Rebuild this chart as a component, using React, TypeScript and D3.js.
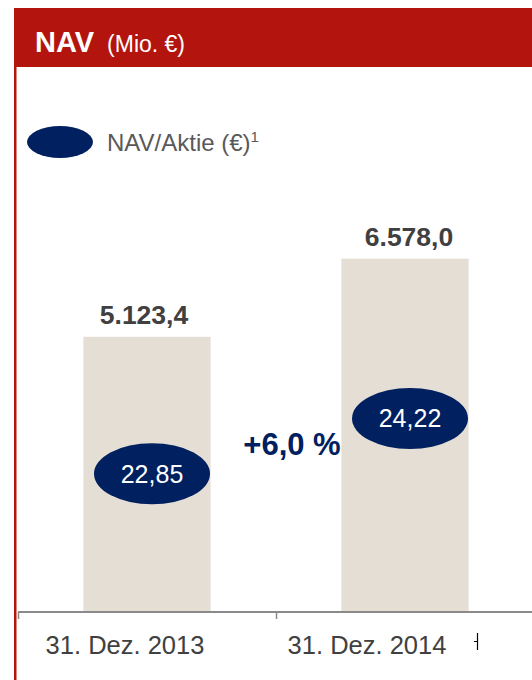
import React from "react";
import * as d3 from "d3";

const categories = ["31. Dez. 2013", "31. Dez. 2014"];
const navValues = [5123.4, 6578.0];
const navLabels = ["5.123,4", "6.578,0"];
const perShareValues = [22.85, 24.22];
const perShareLabels = ["22,85", "24,22"];
const growthLabel = "+6,0 %";

const W = 532;
const H = 680;
const RED = "#B4140E";
const NAVY = "#002060";
const BAR = "#E4DED5";
const DARK = "#404040";
const FONT = "Liberation Sans, Arial, sans-serif";

export default function App() {
  const x = d3.scaleBand<string>().domain(categories).range([18, 534]).padding(0);
  const y = d3.scaleLinear().domain([0, 7000]).range([612, 236]);
  const yShare = d3.scaleLinear().domain([22, 25]).range([508, 387]);
  const barW = x.bandwidth() * 0.493;
  const labelShift = [-22, -38];
  const valueShift = [-3, 4];

  return (
    <svg
      width={W}
      height={H}
      style={{ position: "absolute", left: 0, top: 0, background: "#fff" }}
      fontFamily={FONT}
    >
      {/* frame */}
      <rect x={14} y={8} width={W - 14} height={59} fill={RED} />
      <rect x={14} y={8} width={2.5} height={H - 8} fill={RED} />
      <text x={35} y={52} fill="#fff">
        <tspan fontSize={29} fontWeight="bold">NAV</tspan>
        <tspan fontSize={23} dx={13}>(Mio. €)</tspan>
      </text>

      {/* legend */}
      <ellipse cx={60} cy={142} rx={33} ry={16} fill={NAVY} />
      <text x={107} y={151} fontSize={24} fill="#595959">
        NAV/Aktie (€)<tspan fontSize={15} dy={-9}>1</tspan>
      </text>

      {/* bars */}
      {categories.map((c, i) => {
        const cx = (x(c) as number) + x.bandwidth() / 2;
        return (
          <g key={c}>
            <rect x={cx - barW / 2} y={y(navValues[i])} width={barW} height={y(0) - y(navValues[i])} fill={BAR} />
            <text x={cx + valueShift[i]} y={y(navValues[i]) - 13} textAnchor="middle" fontSize={26.5} fontWeight="bold" fill={DARK}>
              {navLabels[i]}
            </text>
            <ellipse cx={cx + 5} cy={yShare(perShareValues[i])} rx={58} ry={30.5} fill={NAVY} />
            <text x={cx + 5} y={yShare(perShareValues[i]) + 9} textAnchor="middle" fontSize={25} fill="#fff">
              {perShareLabels[i]}
            </text>
          </g>
        );
      })}

      <text x={292} y={455} textAnchor="middle" fontSize={31} fontWeight="bold" fill={NAVY}>
        {growthLabel}
      </text>

      {/* axis */}
      <line x1={18} x2={W} y1={612} y2={612} stroke="#8a8a8a" strokeWidth={2} />
      {categories.map((c) => (
        <line key={c} x1={(x(c) as number) + 0.5} x2={(x(c) as number) + 0.5} y1={612} y2={619} stroke="#8a8a8a" strokeWidth={1.5} />
      ))}
      {categories.map((c, i) => (
        <text key={c} x={(x(c) as number) + x.bandwidth() / 2 + labelShift[i]} y={654} textAnchor="middle" fontSize={25.5} fill={DARK}>
          {c}
        </text>
      ))}
      <line x1={477.5} x2={477.5} y1={633} y2={650} stroke="#000" strokeWidth={1.2} />
      <line x1={474} x2={477.5} y1={641.5} y2={641.5} stroke="#000" strokeWidth={1} />
    </svg>
  );
}
